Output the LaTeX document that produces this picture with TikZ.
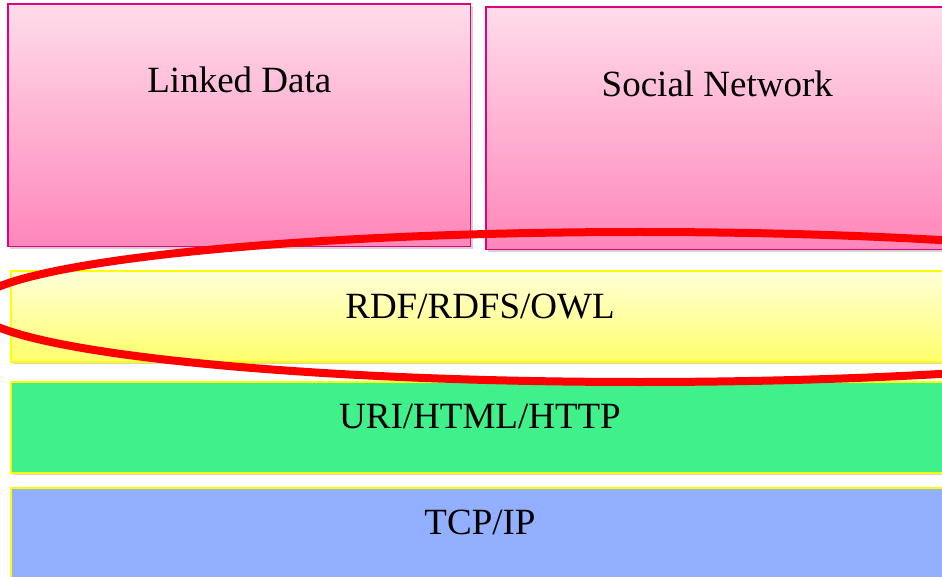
\documentclass[tikz,border=0pt]{standalone}
\usepackage{fontspec}
\setmainfont{Liberation Serif}
\usetikzlibrary{shadows}
\definecolor{pinktop}{RGB}{255,220,234}
\definecolor{pinkbot}{RGB}{255,134,186}
\definecolor{pinkline}{RGB}{225,0,130}
\definecolor{yeltop}{RGB}{255,255,216}
\definecolor{yelbot}{RGB}{255,255,108}
\definecolor{yelline}{RGB}{255,255,0}
\definecolor{urigreen}{RGB}{64,240,138}
\definecolor{tcpblue}{RGB}{146,176,255}
\definecolor{ringred}{RGB}{255,0,0}
\begin{document}
\begin{tikzpicture}[x=0.75pt,y=-0.75pt,
     box/.style = {anchor=north west,inner sep=0pt,outer sep=0pt,
       drop shadow={shadow xshift=1.5pt,shadow yshift=-1.5pt,opacity=0.35}},
     appbox/.style = {box,draw=pinkline,line width=1.1pt,
       top color=pinktop,bottom color=pinkbot,
       minimum width=347pt,minimum height=182pt},
     layerbox/.style = {box,draw=yelline,line width=1.5pt,
       minimum width=703.5pt,minimum height=68.5pt},
     boxtext/.style = {anchor=base,inner sep=0pt,
       font=\fontsize{27.75pt}{33pt}\selectfont}]
     \useasboundingbox (0,0) rectangle (942,577);
     \clip (0,0) rectangle (942,577);
     % application boxes
     \node[appbox](ld) at (8,4) {};
     \node[appbox](sn) at (486,7) {};
     % layers
     \node[layerbox,top color=yeltop,bottom color=yelbot](rdf) at (11,271) {};
     \node[layerbox,fill=urigreen](uri) at (11,382) {};
     \node[layerbox,fill=tcpblue](tcp) at (11,488) {};
     \node[boxtext](ldt) at ([yshift=-66.75pt]ld.north) {Linked Data};
     \node[boxtext](snt) at ([yshift=-67.5pt]sn.north) {Social Network};
     \node[boxtext](rdft) at ([yshift=-35.25pt]rdf.north) {RDF/RDFS/OWL};
     \node[boxtext](urit) at ([yshift=-34.5pt]uri.north) {URI/HTML/HTTP};
     \node[boxtext](tcpt) at ([yshift=-34.5pt]tcp.north) {TCP/IP};
     % ring round the RDF layer
     \draw[ringred,line width=6pt] (640,307) ellipse [x radius=499.5pt,y radius=56.25pt];
   \end{tikzpicture}
\end{document}
